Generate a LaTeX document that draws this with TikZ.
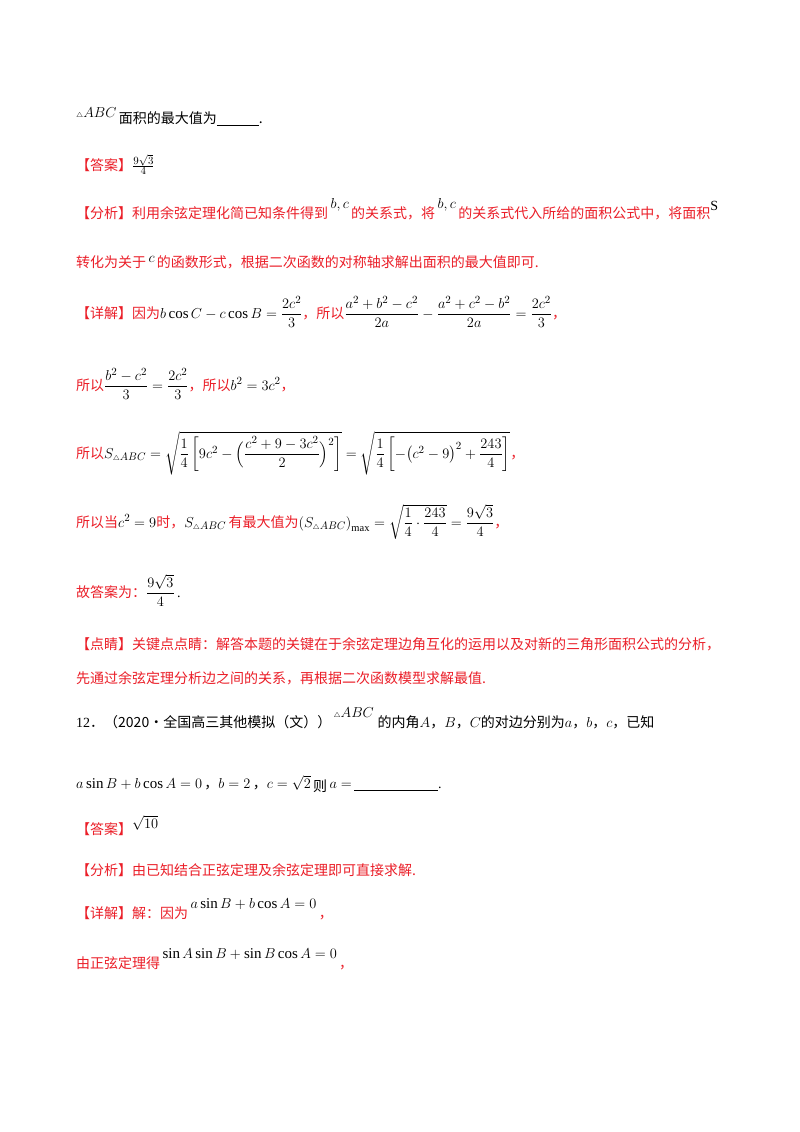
\documentclass[tikz,border=0pt]{standalone}
\usepackage{amsmath}
\usepackage{fontspec}
\setmainfont{Liberation Serif}
\newfontfamily\cjk{Noto Sans CJK SC}
\definecolor{rd}{RGB}{235,30,40}
\begin{document}
\begin{tikzpicture}[x=1pt,y=-1pt,
  t/.style={anchor=base west,inner sep=0pt,font=\fontsize{14}{16}\selectfont},
  r/.style={t,text=rd}]
\useasboundingbox[fill=white] (0,0) rectangle (800,1132);
\newcommand{\R}[1]{\textcolor{rd}{\cjk #1}}
\newcommand{\K}[1]{{\cjk #1}}
\newcommand{\M}[1]{{\fontsize{15}{17}\selectfont$#1$}}
\newcommand{\tri}{{\scriptscriptstyle\triangle}}
\node[t] (l1) at (76,117) {\M{\tri ABC}\,\raisebox{-6pt}{\K{面积的最大值为\underline{\hspace{3em}}.}}};
\node[t] (l2) at (76,170) {\R{【答案】}\M{\frac{9\sqrt3}{4}}};
\node[t] (l3) at (76,218) {\R{【分析】利用余弦定理化简已知条件得到}\,\raisebox{10pt}{\M{b,c}}\,\R{的关系式，将}\,\raisebox{10pt}{\M{b,c}}\,\R{的关系式代入所给的面积公式中，将面积}\raisebox{8pt}{S}};
\node[t] (l4) at (76,267) {\R{转化为关于}\,\raisebox{5pt}{\M{c}}\,\R{的函数形式，根据二次函数的对称轴求解出面积的最大值即可.}};
\node[t] (l5) at (76,318) {\R{【详解】因为}\M{b\cos C-c\cos B=\dfrac{2c^2}{3}}\R{，所以}\M{\dfrac{a^2+b^2-c^2}{2a}-\dfrac{a^2+c^2-b^2}{2a}=\dfrac{2c^2}{3}}\R{，}};
\node[t] (l6) at (76,390) {\R{所以}\M{\dfrac{b^2-c^2}{3}=\dfrac{2c^2}{3}}\R{，所以}\M{b^2=3c^2}\R{，}};
\node[t] (l7) at (76,458) {\R{所以}\M{S_{\tri ABC}=\sqrt{\dfrac14\left[9c^2-\Big(\dfrac{c^2+9-3c^2}{2}\Big)^2\right]}=\sqrt{\dfrac14\left[-\big(c^2-9\big)^2+\dfrac{243}{4}\right]}}\R{，}};
\node[t] (l8) at (76,527) {\R{所以当}\M{c^2=9}\R{时，}\M{S_{\tri ABC}}\,\R{有最大值为}\M{\left(S_{\tri ABC}\right)_{\max}=\sqrt{\dfrac14\cdot\dfrac{243}{4}}=\dfrac{9\sqrt3}{4}}\R{，}};
\node[t] (l9) at (76,597) {\R{故答案为：}\M{\dfrac{9\sqrt3}{4}}\,.};
\node[t] (l10) at (76,649) {\R{【点睛】关键点点睛：解答本题的关键在于余弦定理边角互化的运用以及对新的三角形面积公式的分析，}};
\node[t] (l11) at (76,683) {\R{先通过余弦定理分析边之间的关系，再根据二次函数模型求解最值.}};
\node[t] (l12) at (76,727) {12\K{．（2020·全国高三其他模拟（文））}\,\raisebox{10pt}{\M{\tri ABC}}\;\K{的内角}\M{A}\K{，}\M{B}\K{，}\M{C}\K{的对边分别为}\M{a}\K{，}\M{b}\K{，}\M{c}\K{，已知}};
\node[t] (l13) at (76,788) {\M{a\sin B+b\cos A=0}\,\K{，}\M{b=2}\,\K{，}\M{c=\sqrt2}\,\raisebox{-3pt}{\K{则}}\,\M{a=}\,\underline{\hspace{6em}}.};
\node[t] (l14) at (76,834) {\R{【答案】}\raisebox{6pt}{\M{\sqrt{10}}}};
\node[t] (l15) at (76,875) {\R{【分析】由已知结合正弦定理及余弦定理即可直接求解.}};
\node[t] (l16) at (76,918) {\R{【详解】解：因为}\,\raisebox{10pt}{\M{a\sin B+b\cos A=0}}\,\R{，}};
\node[t] (l17) at (76,968) {\R{由正弦定理得}\,\raisebox{10pt}{\M{\sin A\sin B+\sin B\cos A=0}}\,\R{，}};
\end{tikzpicture}
\end{document}
